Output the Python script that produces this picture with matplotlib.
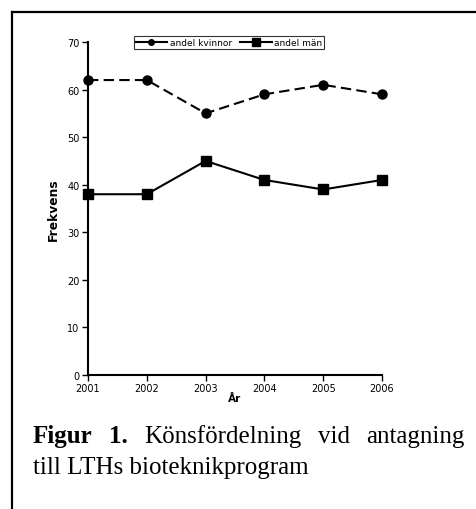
import matplotlib
matplotlib.use("Agg")
import matplotlib.pyplot as plt
from matplotlib.lines import Line2D

years = [2001, 2002, 2003, 2004, 2005, 2006]
kvinnor = [62, 62, 55, 59, 61, 59]
man = [38, 38, 45, 41, 39, 41]
yticks = [0, 10, 20, 30, 40, 50, 60, 70]

W, H = 477, 510
fig = plt.figure(figsize=(W / 100, H / 100), dpi=100)
ax = fig.add_axes([88 / W, 1 - 376 / H, (382 - 88) / W, (376 - 43) / H])

ax.plot(years, kvinnor, color="black", lw=1.5, ls=(0, (5, 2.5)),
        marker="o", ms=6.5, clip_on=False)
ax.plot(years, man, color="black", lw=1.5, marker="s", ms=7, clip_on=False)

ax.set_xlim(2001, 2006)
ax.set_ylim(0, 70)
ax.set_xticks(years)
ax.set_yticks(yticks)
for s in ["top", "right"]:
    ax.spines[s].set_visible(False)
for s in ["left", "bottom"]:
    ax.spines[s].set_linewidth(1.5)
ax.tick_params(direction="out", length=4, width=1, labelsize=7, pad=2)
ax.set_xlabel("År", fontsize=7.5, fontweight="bold", labelpad=0)
ax.set_ylabel("Frekvens", fontsize=8.8, fontweight="bold", labelpad=5)

handles = [Line2D([], [], color="black", lw=1.5, marker="o", ms=4),
           Line2D([], [], color="black", lw=1.5, marker="s", ms=5.5)]
leg = fig.legend(handles, ["andel kvinnor", "andel män"], ncol=2,
                 loc="center", bbox_to_anchor=(229 / W, 1 - 43.5 / H),
                 fontsize=6.5, frameon=True, fancybox=False,
                 handlelength=3.5, handletextpad=0.3, columnspacing=0.9,
                 borderpad=0.2, borderaxespad=0)
leg.get_frame().set_edgecolor("black")
leg.get_frame().set_linewidth(0.8)

# ram runt figuren (bara topp och vänster syns)
fig.add_artist(Line2D([12 / W, 1], [1 - 12.5 / H] * 2, color="black", lw=1.6,
                      transform=fig.transFigure))
fig.add_artist(Line2D([12 / W] * 2, [0, 1 - 12.5 / H], color="black", lw=1.6,
                      transform=fig.transFigure))

# bildtext, första raden marginaljusterad
words = [("Figur", "bold"), ("1.", "bold"), ("Könsfördelning", "normal"),
         ("vid", "normal"), ("antagning", "normal")]
x0, x1 = 33, 465
y1 = 1 - 443 / H
texts = [fig.text(0, y1, w, fontsize=18, fontweight=fw,
                  family="Liberation Serif", va="baseline") for w, fw in words]
fig.canvas.draw()
r = fig.canvas.get_renderer()
widths = [t.get_window_extent(r).width for t in texts]
gap = (x1 - x0 - sum(widths)) / (len(words) - 1)
x = x0
for t, w in zip(texts, widths):
    t.set_x(x / W)
    x += w + gap
fig.text(x0 / W, 1 - 474 / H, "till LTHs bioteknikprogram", fontsize=18,
         family="Liberation Serif", va="baseline")

fig.savefig("out.png", dpi=100)
